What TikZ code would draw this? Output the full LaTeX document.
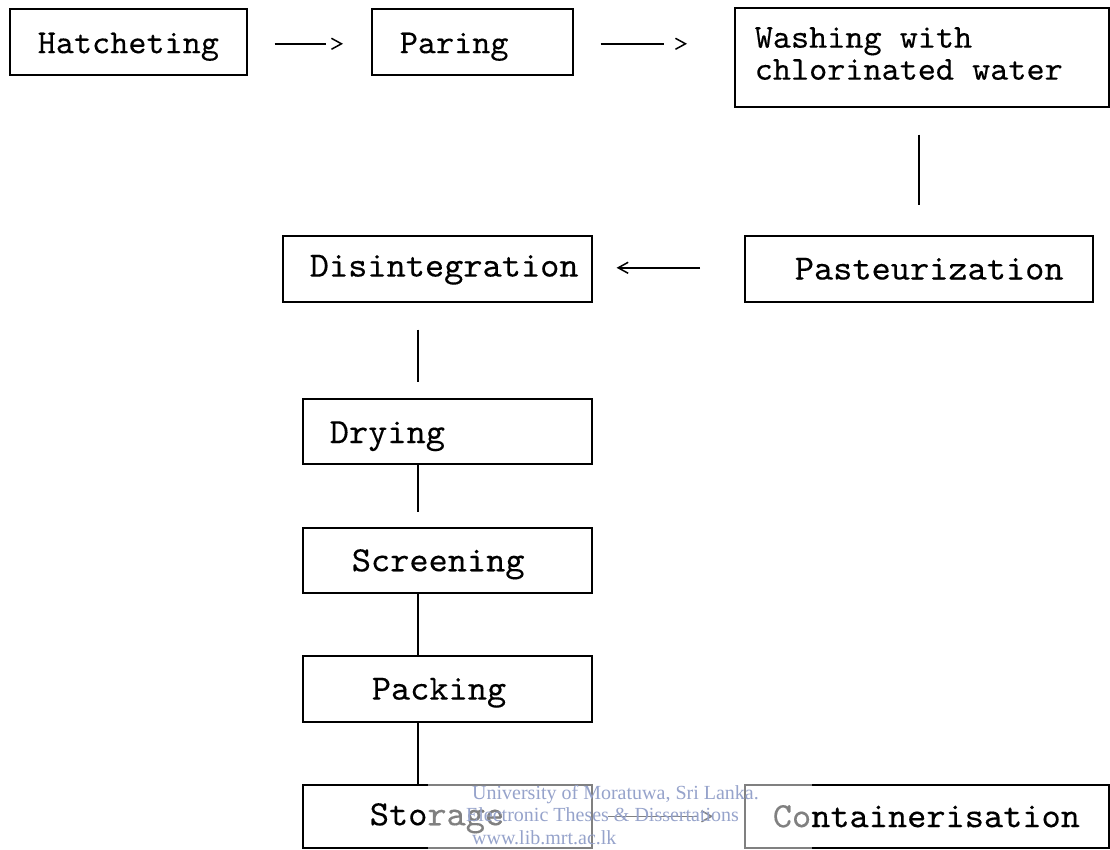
\documentclass[tikz,border=0pt]{standalone}
\usepackage{fontspec}
\setmonofont[FakeStretch=1.03, FakeBold=0.25]{lmmono10-regular.otf}
\newfontfamily\wmfont{Liberation Serif}
\usetikzlibrary{arrows.meta}
\newcommand{\padtext}[3]{\makebox[#1][l]{\hspace*{#2}#3}}
\newcommand{\lowertext}[2]{\raisebox{-#1}[\height][\depth]{#2}}
\definecolor{wmblue}{RGB}{150,163,203}
\tikzset{
  flowbox/.style={draw, line width=1.6pt, inner xsep=0pt, inner ysep=0pt, anchor=north west},
  toprow/.style={font=\ttfamily\fontsize{33.5}{32}\selectfont},
  lowrow/.style={font=\ttfamily\fontsize{35.5}{34}\selectfont},
  conn/.style={line width=1.5pt},
  tipr/.style={-{Straight Barb[length=10pt,width=11pt]}},
  wmtext/.style={font=\wmfont\fontsize{20}{21}\selectfont, text=wmblue, anchor=west, inner sep=0pt}
}
\begin{document}
\begin{tikzpicture}[x=1pt,y=1pt]
\fill[white] (0,0) rectangle (1110,849);
\useasboundingbox (0,0) rectangle (1110,849);

% boxes
\node[flowbox, toprow, minimum height=66pt] (hatch) at (9,841) {\padtext{237pt}{28pt}{\lowertext{5pt}{Hatcheting}}};
\node[flowbox, toprow, minimum height=66pt] (paring) at (371,841) {\padtext{201pt}{28pt}{\lowertext{5pt}{Paring}}};
\node[flowbox, toprow, minimum height=99pt] (wash) at (734,842)
  {\padtext{374pt}{20pt}{\begin{tabular}{@{}l@{}}Washing with\\chlorinated water\end{tabular}}};
\node[flowbox, lowrow, minimum height=66pt] (disint) at (282,614) {\padtext{309pt}{27pt}{\lowertext{1pt}{Disintegration}}};
\node[flowbox, lowrow, minimum height=66pt] (pasteur) at (744,614) {\padtext{348pt}{50pt}{Pasteurization}};
\node[flowbox, lowrow, minimum height=65pt] (drying) at (302,451) {\padtext{289pt}{27pt}{\lowertext{5pt}{Drying}}};
\node[flowbox, lowrow, minimum height=65pt] (screen) at (302,322) {\padtext{289pt}{49pt}{\lowertext{4pt}{Screening}}};
\node[flowbox, lowrow, minimum height=66pt] (packing) at (302,194) {\padtext{289pt}{69pt}{\lowertext{4pt}{Packing}}};
\node[flowbox, lowrow, minimum height=63pt] (storage) at (302,65) {\padtext{289pt}{67pt}{\lowertext{2pt}{Storage}}};
\node[flowbox, lowrow, minimum height=63pt] (contain) at (744,65) {\padtext{364pt}{28pt}{Containerisation}};

\coordinate (vx) at (418,0);

% horizontal connectors
\draw[conn, tipr, shorten <=27pt, shorten >=28pt, dash pattern=on 51pt off 80pt]
  ([yshift=-2pt]hatch.east) -- ([yshift=-2pt]hatch.east -| paring.west);
\draw[conn, tipr, shorten <=27pt, shorten >=47pt, dash pattern=on 63pt off 80pt]
  ([yshift=-2pt]paring.east) -- ([yshift=-2pt]paring.east -| wash.west);
\draw[conn, tipr, shorten <=44pt, shorten >=24pt]
  ([yshift=1pt]pasteur.west) -- ([yshift=1pt]disint.east);
\draw[conn, tipr, shorten <=15pt, shorten >=31pt, dash pattern=on 90pt off 80pt]
  (storage.east) -- (contain.west);

% vertical connectors
\draw[conn, shorten <=27pt, shorten >=30pt]
  ([xshift=-3pt]wash.south) -- ([xshift=-3pt]wash.south |- pasteur.north);
\draw[conn, shorten <=27pt, shorten >=16pt] (disint.south -| vx) -- (drying.north -| vx);
\draw[conn, shorten >=15pt] (drying.south -| vx) -- (screen.north -| vx);
\draw[conn] (screen.south -| vx) -- (packing.north -| vx);
\draw[conn] (packing.south -| vx) -- (storage.north -| vx);

% watermark
\fill[white, opacity=0.5] (428,0) rectangle (812,75);
\node[wmtext] (wm1) at (472,54) {University of Moratuwa, Sri Lanka.};
\node[wmtext] (wm2) at (466,34) {Electronic Theses \& Dissertations};
\node[wmtext] (wm3) at (472,11) {www.lib.mrt.ac.lk};
\end{tikzpicture}
\end{document}
